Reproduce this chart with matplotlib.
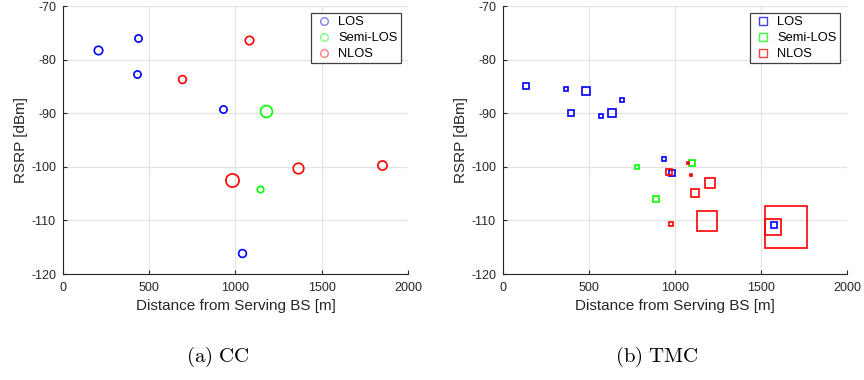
import numpy as np
import matplotlib
matplotlib.use("Agg")
import matplotlib.pyplot as plt
from matplotlib.lines import Line2D

plt.rcParams['font.family'] = ['Liberation Sans', 'DejaVu Sans']
plt.rcParams['mathtext.fontset'] = 'cm'
plt.rcParams['axes.unicode_minus'] = False

# (a) CC - circles
cc_los_d = [205, 436, 429, 929, 1036]
cc_los_p = [-78.3, -75.9, -82.7, -89.2, -116.0]
cc_los_ms = [6.1, 5.2, 5.2, 5.2, 5.6]

cc_semi_d = [1177, 1144]
cc_semi_p = [-89.5, -104.1]
cc_semi_ms = [8.5, 4.7]

cc_nlos_d = [1077, 688, 978, 1364, 1848]
cc_nlos_p = [-76.3, -83.7, -102.5, -100.3, -99.7]
cc_nlos_ms = [6.1, 5.6, 9.5, 7.6, 6.6]

# (b) TMC - squares
tmc_los_d = [135, 365, 481, 394, 572, 634, 694, 936, 981, 1574]
tmc_los_p = [-85.0, -85.4, -85.8, -89.9, -90.6, -90.0, -87.6, -98.5, -101.1, -110.9]
tmc_los_ms = [4.2, 2.3, 5.2, 3.7, 2.7, 5.2, 2.7, 2.7, 3.7, 4.0]

tmc_semi_d = [779, 890, 1097]
tmc_semi_p = [-100.0, -106.0, -99.3]
tmc_semi_ms = [2.7, 4.2, 4.2]

tmc_nlos_d = [1074, 963, 1091, 977, 1118, 1205, 1186, 1571, 1644]
tmc_nlos_p = [-99.2, -100.9, -101.5, -110.7, -104.9, -103.0, -110.1, -111.3, -111.3]
tmc_nlos_ms = [1.8, 3.7, 1.8, 2.7, 5.2, 7.1, 13.8, 11.7, 30.4]

labels = ['LOS', 'Semi-LOS', 'NLOS']
colors = [(0, 0, 1), (0, 1, 0), (1, 0, 0)]

fig = plt.figure(figsize=(8.64, 3.8), dpi=100)
ax1 = fig.add_axes([0.0729, 0.2789, 0.3993, 0.7053])
ax2 = fig.add_axes([0.5822, 0.2789, 0.3981, 0.7053])


def draw(ax, groups, marker, tint):
    for (d, p, ms), c in zip(groups, colors):
        for xi, yi, si in zip(d, p, ms):
            ax.plot(xi, yi, marker=marker, ms=si, mfc='none', mec=c, mew=1.2,
                    ls='none', zorder=3)
    # pale legend markers
    pale = [tuple(v + (1 - v) * tint for v in c) for c in colors]
    handles = [Line2D([], [], marker=marker, ls='none', mfc='none', mec=c,
                      ms=5.5, mew=1.0) for c in pale]
    leg = ax.legend(handles, labels, loc='upper right', fontsize=9.3,
                    fancybox=False, framealpha=1, edgecolor='#404040',
                    handletextpad=0.3, borderpad=0.25, labelspacing=0.3,
                    handlelength=1.6, borderaxespad=0.55)
    leg.get_frame().set_linewidth(0.9)
    ax.set_xlim(0, 2000)
    ax.set_ylim(-120, -70)
    ax.set_xticks([0, 500, 1000, 1500, 2000])
    ax.set_yticks([-120, -110, -100, -90, -80, -70])
    ax.grid(True, color='#e3e3e3', lw=0.9)
    ax.set_axisbelow(True)
    for s in ['top', 'right']:
        ax.spines[s].set_visible(False)
    for s in ['left', 'bottom']:
        ax.spines[s].set_color('#262626')
        ax.spines[s].set_linewidth(0.8)
    ax.tick_params(direction='in', length=3, width=0.8, labelsize=9,
                   colors='#262626')
    ax.tick_params(axis='x', pad=6)
    ax.tick_params(axis='y', pad=5)
    ax.set_xlabel('Distance from Serving BS [m]', fontsize=11, color='#262626', labelpad=3)
    ax.set_ylabel('RSRP [dBm]', fontsize=11, color='#262626', labelpad=2)


draw(ax1, [(cc_los_d, cc_los_p, cc_los_ms), (cc_semi_d, cc_semi_p, cc_semi_ms),
           (cc_nlos_d, cc_nlos_p, cc_nlos_ms)], 'o', 0.5)
draw(ax2, [(tmc_los_d, tmc_los_p, tmc_los_ms), (tmc_semi_d, tmc_semi_p, tmc_semi_ms),
           (tmc_nlos_d, tmc_nlos_p, tmc_nlos_ms)], 's', 0.25)

fig.text(218 / 864, 1 - 357 / 380, r'$\mathrm{(a)\ CC}$', ha='center', va='center', fontsize=15)
fig.text(657 / 864, 1 - 357 / 380, r'$\mathrm{(b)\ TMC}$', ha='center', va='center', fontsize=15)

fig.savefig('out.png', dpi=100)
